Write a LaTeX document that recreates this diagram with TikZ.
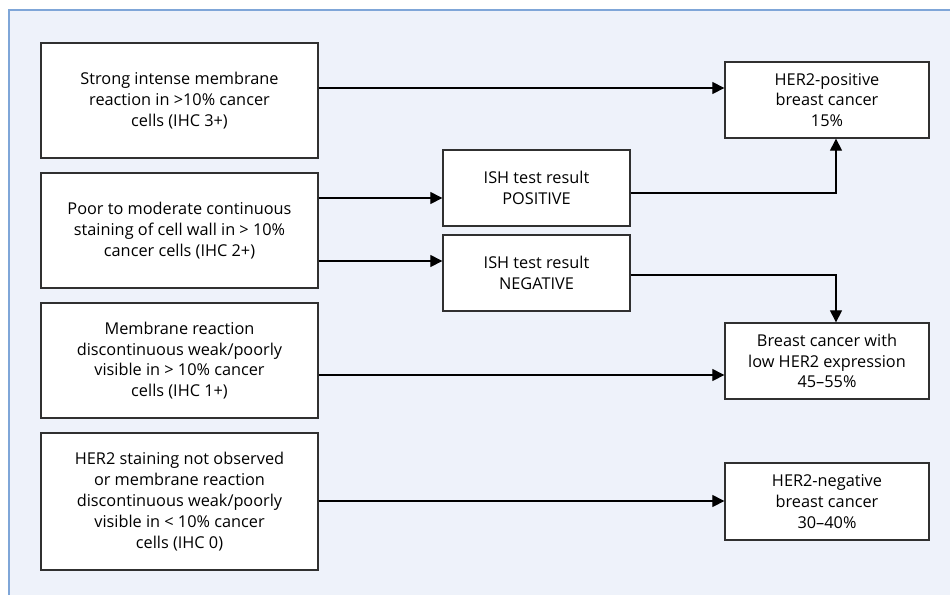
\documentclass[tikz,border=0pt]{standalone}
\usepackage{fontspec}
\setmainfont{Open Sans}
\usetikzlibrary{arrows.meta}
\definecolor{panelfill}{HTML}{EEF2FA}
\definecolor{panelline}{HTML}{7FA6D8}
\definecolor{boxline}{HTML}{303030}
\begin{document}
\begin{tikzpicture}[x=1pt,y=-1pt,
  box/.style={draw=boxline,line width=1.3pt,fill=white,align=center,inner sep=0pt,
    font=\fontsize{16.3}{20.8}\selectfont},
  conn/.style={line width=1.1pt,-{Triangle[length=12pt,width=12pt]}}]
\useasboundingbox (0,0) rectangle (950,595);
\fill[panelfill] (9,10) rectangle (950,595);
\draw[panelline,line width=1.2pt] (9,595) -- (9,10) -- (950,10);
\node[box,minimum width=277pt,minimum height=115pt] (b1) at (179.5,100.5)
  {Strong intense membrane\\reaction in >10\% cancer\\cells (IHC 3+)};
\node[box,minimum width=277pt,minimum height=115pt] (b2) at (179.5,230.5)
  {Poor to moderate continuous\\staining of cell wall in > 10\%\\cancer cells (IHC 2+)};
\node[box,minimum width=277pt,minimum height=115pt] (b3) at (179.5,360.5)
  {Membrane reaction\\discontinuous weak/poorly\\visible in > 10\% cancer\\cells (IHC 1+)};
\node[box,minimum width=277pt,minimum height=137pt] (b4) at (179.5,501.5)
  {HER2 staining not observed\\or membrane reaction\\discontinuous weak/poorly\\visible in < 10\% cancer\\cells (IHC 0)};
\node[box,minimum width=187pt,minimum height=76pt] (ip) at (536.5,188)
  {ISH test result\\POSITIVE};
\node[box,minimum width=187pt,minimum height=76pt] (in) at (536.5,273)
  {ISH test result\\NEGATIVE};
\node[box,minimum width=204pt,minimum height=76pt] (rp) at (827,100)
  {HER2-positive\\breast cancer\\15\%};
\node[box,minimum width=204pt,minimum height=76pt] (rl) at (827,361)
  {Breast cancer with\\low HER2 expression\\45--55\%};
\node[box,minimum width=204pt,minimum height=77pt] (rn) at (827,501.5)
  {HER2-negative\\breast cancer\\30--40\%};
\draw[conn] (b1.east |- 0,88) -- (rp.west |- 0,88);
\draw[conn] (b2.east |- 0,198) -- (ip.west |- 0,198);
\draw[conn] (b2.east |- 0,261) -- (in.west |- 0,261);
\draw[conn] (ip.east |- 0,193) -| (rp.south -| 836,0);
\draw[conn] (in.east |- 0,275) -| (rl.north -| 836,0);
\draw[conn] (b3.east |- 0,375) -- (rl.west |- 0,375);
\draw[conn] (b4.east |- 0,501) -- (rn.west |- 0,501);
\end{tikzpicture}
\end{document}
